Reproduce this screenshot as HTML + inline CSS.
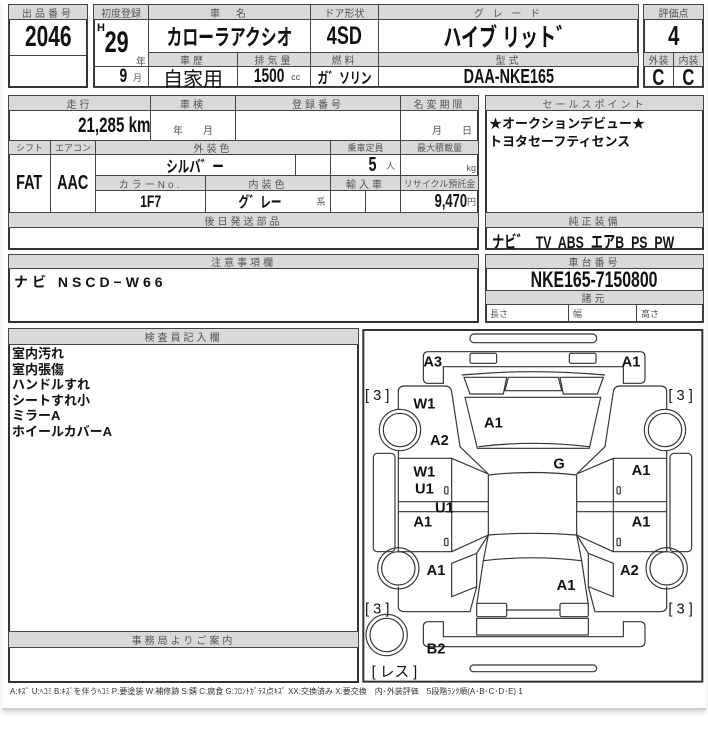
<!DOCTYPE html>
<html><head><meta charset="utf-8">
<style>
*{margin:0;padding:0}
body{width:708px;height:750px;background:#fff;position:relative;overflow:hidden;font-family:"Liberation Sans","Noto Sans CJK JP",sans-serif;color:#111}
.c{position:absolute;border:1px solid #444;box-sizing:border-box;display:flex;align-items:center;justify-content:center;white-space:nowrap}
.o{position:absolute;border:2px solid #333;box-sizing:border-box}
.h{background:#d9d9d9;font-size:10px;color:#555;letter-spacing:3px}
.n{font-family:"Liberation Sans","Noto Sans CJK JP",sans-serif;font-weight:bold}
.k{display:inline-block;transform:scaleX(.72);font-weight:bold}
.t{position:absolute;white-space:nowrap}
</style></head><body>
<div style="position:absolute;left:2px;top:0;width:704px;height:708px;border-bottom:2px solid #ccc;box-shadow:0 3px 4px #ddd"></div>

<!-- Box 1 -->
<div class="o" style="left:8px;top:4px;width:80px;height:84px"></div>
<div class="c h" style="left:8px;top:4px;width:80px;height:16px">出品番号</div>
<div class="c" style="left:8px;top:19px;width:80px;height:37px;font-size:29px"><span class="k">2046</span></div>

<!-- Box 2 -->
<div class="o" style="left:93px;top:4px;width:546px;height:84px"></div>
<div class="c h" style="left:93px;top:4px;width:56px;height:16px;letter-spacing:0">初度登録</div>
<div class="c h" style="left:148px;top:4px;width:163px;height:16px">車　名</div>
<div class="c h" style="left:310px;top:4px;width:69px;height:16px;letter-spacing:0">ドア形状</div>
<div class="c h" style="left:378px;top:4px;width:261px;height:16px">グ レ ー ド</div>
<div class="c" style="left:93px;top:19px;width:56px;height:48px"></div>
<div class="t n" style="left:97px;top:22px;font-size:11px">H</div>
<div class="t" style="left:100px;top:26px;font-size:30px"><span class="k">29</span></div>
<div class="t" style="left:136px;top:53px;font-size:10px;color:#555">年</div>
<div class="c" style="left:148px;top:19px;width:163px;height:34px;font-size:22px"><span class="k">カローラアクシオ</span></div>
<div class="c" style="left:310px;top:19px;width:69px;height:34px;font-size:25px"><span class="k">4SD</span></div>
<div class="c" style="left:378px;top:19px;width:261px;height:34px;font-size:25px"><span class="k">ハイブ リット゛</span></div>
<div class="c h" style="left:148px;top:52px;width:90px;height:15px">車歴</div>
<div class="c h" style="left:237px;top:52px;width:74px;height:15px">排気量</div>
<div class="c h" style="left:310px;top:52px;width:69px;height:15px">燃料</div>
<div class="c h" style="left:378px;top:52px;width:261px;height:15px">型式</div>
<div class="c" style="left:93px;top:66px;width:56px;height:22px;justify-content:flex-end;padding-right:6px"><span class="k" style="font-size:19px">9</span><span style="font-size:9px;color:#555;margin-left:4px">月</span></div>
<div class="c" style="left:148px;top:66px;width:90px;height:22px;font-size:20px">自家用</div>
<div class="c" style="left:237px;top:66px;width:74px;height:22px"><span class="k" style="font-size:19px">1500</span><span style="font-size:9px;color:#555;margin-left:1px">cc</span></div>
<div class="c" style="left:310px;top:66px;width:69px;height:22px;font-size:15px"><span class="k">ガ゛ソリン</span></div>
<div class="c" style="left:378px;top:66px;width:261px;height:22px;font-size:20px"><span class="k">DAA-NKE165</span></div>

<!-- Box 3 -->
<div class="o" style="left:643px;top:4px;width:61px;height:84px"></div>
<div class="c h" style="left:643px;top:4px;width:61px;height:16px;letter-spacing:0">評価点</div>
<div class="c" style="left:643px;top:19px;width:61px;height:34px;font-size:28px"><span class="k">4</span></div>
<div class="c h" style="left:643px;top:52px;width:31px;height:15px;letter-spacing:0">外装</div>
<div class="c h" style="left:673px;top:52px;width:31px;height:15px;letter-spacing:0">内装</div>
<div class="c" style="left:643px;top:66px;width:31px;height:22px;font-size:23px"><span class="k">C</span></div>
<div class="c" style="left:673px;top:66px;width:31px;height:22px;font-size:23px"><span class="k">C</span></div>

<!-- Section 2 left -->
<div class="o" style="left:8px;top:95px;width:471px;height:155px"></div>
<div class="c h" style="left:8px;top:95px;width:143px;height:16px">走行</div>
<div class="c h" style="left:150px;top:95px;width:86px;height:16px">車検</div>
<div class="c h" style="left:235px;top:95px;width:166px;height:16px">登録番号</div>
<div class="c h" style="left:400px;top:95px;width:79px;height:16px">名変期限</div>
<div class="c" style="left:8px;top:110px;width:143px;height:31px;justify-content:flex-end;padding-right:0"><span class="k" style="font-size:21px;transform-origin:right">21,285 km</span></div>
<div class="c" style="left:150px;top:110px;width:86px;height:31px;font-size:10px;color:#555;align-items:flex-end;padding-bottom:3px">年　　月</div>
<div class="c" style="left:235px;top:110px;width:166px;height:31px"></div>
<div class="c" style="left:400px;top:110px;width:79px;height:31px;font-size:10px;color:#555;align-items:flex-end;justify-content:flex-end;padding:0 6px 3px 0">月　　日</div>
<div class="c h" style="left:8px;top:140px;width:43px;height:15px;letter-spacing:0;font-size:9px">シフト</div>
<div class="c h" style="left:50px;top:140px;width:46px;height:15px;letter-spacing:0;font-size:9px">エアコン</div>
<div class="c h" style="left:95px;top:140px;width:236px;height:15px">外装色</div>
<div class="c h" style="left:330px;top:140px;width:71px;height:15px;letter-spacing:0;font-size:9px">乗車定員</div>
<div class="c h" style="left:400px;top:140px;width:79px;height:15px;letter-spacing:0;font-size:9px">最大積載量</div>
<div class="c" style="left:8px;top:154px;width:43px;height:59px;font-size:20px"><span class="k">FAT</span></div>
<div class="c" style="left:50px;top:154px;width:46px;height:59px;font-size:20px"><span class="k">AAC</span></div>
<div class="c" style="left:95px;top:154px;width:201px;height:22px;font-size:16px"><span class="k">シルバ゛ー</span></div>
<div class="c" style="left:295px;top:154px;width:36px;height:22px"></div>
<div class="c" style="left:330px;top:154px;width:71px;height:22px;justify-content:flex-end;padding-right:5px"><span class="k" style="font-size:20px">5</span><span style="font-size:9px;color:#555;margin-left:8px">人</span></div>
<div class="c" style="left:400px;top:154px;width:79px;height:22px;justify-content:flex-end;align-items:flex-end;padding:0 2px 2px 0;font-size:9px;color:#555">kg</div>
<div class="c h" style="left:95px;top:175px;width:111px;height:16px">カラーNo.</div>
<div class="c h" style="left:205px;top:175px;width:126px;height:16px">内装色</div>
<div class="c h" style="left:330px;top:175px;width:71px;height:16px">輸入車</div>
<div class="c h" style="left:400px;top:175px;width:79px;height:16px;letter-spacing:0;font-size:9px">リサイクル預託金</div>
<div class="c" style="left:95px;top:190px;width:111px;height:23px;font-size:17px"><span class="k">1F7</span></div>
<div class="c" style="left:205px;top:190px;width:126px;height:23px"><span class="k" style="font-size:15px;margin-left:20px">グ゛レー</span><span style="font-size:9px;color:#555;margin-left:26px">系</span></div>
<div class="c" style="left:330px;top:190px;width:36px;height:23px"></div>
<div class="c" style="left:365px;top:190px;width:36px;height:23px"></div>
<div class="c" style="left:400px;top:190px;width:79px;height:23px;justify-content:flex-end;padding-right:2px"><span class="k" style="font-size:18px;transform-origin:right">9,470</span><span style="font-size:9px;color:#555">円</span></div>
<div class="c h" style="left:8px;top:212px;width:471px;height:16px">後日発送部品</div>

<!-- Section 2 right -->
<div class="o" style="left:485px;top:95px;width:219px;height:155px"></div>
<div class="c h" style="left:485px;top:95px;width:219px;height:16px">セールスポイント</div>
<div class="t" style="left:489px;top:115px;font-size:13px;font-weight:bold;line-height:18px">★オークションデビュー★<br>トヨタセーフティセンス</div>
<div class="c h" style="left:485px;top:212px;width:219px;height:16px">純正装備</div>
<div class="t" style="left:492px;top:228px;font-size:17px;word-spacing:5px"><span class="k" style="transform-origin:left">ナビ゛ TV ABS エアB PS PW</span></div>

<!-- Section 3 -->
<div class="o" style="left:8px;top:254px;width:471px;height:69px"></div>
<div class="c h" style="left:8px;top:254px;width:471px;height:15px">注意事項欄</div>
<div class="t" style="left:14px;top:272px;font-size:14px;font-weight:bold;letter-spacing:4px">ナビ NSCD−W66</div>
<div class="o" style="left:485px;top:254px;width:219px;height:69px"></div>
<div class="c h" style="left:485px;top:254px;width:219px;height:15px">車台番号</div>
<div class="c" style="left:485px;top:268px;width:219px;height:23px;font-size:22px"><span class="k">NKE165-7150800</span></div>
<div class="c h" style="left:485px;top:290px;width:219px;height:15px">諸元</div>
<div class="c" style="left:485px;top:304px;width:84px;height:19px;justify-content:flex-start;padding-left:4px;font-size:9px;color:#555">長さ</div>
<div class="c" style="left:568px;top:304px;width:69px;height:19px;justify-content:flex-start;padding-left:4px;font-size:9px;color:#555">幅</div>
<div class="c" style="left:636px;top:304px;width:68px;height:19px;justify-content:flex-start;padding-left:4px;font-size:9px;color:#555">高さ</div>

<!-- Section 4 left -->
<div class="o" style="left:8px;top:328px;width:351px;height:355px"></div>
<div class="c h" style="left:8px;top:328px;width:351px;height:17px">検査員記入欄</div>
<div class="t" style="left:12px;top:346px;font-size:13px;font-weight:bold;line-height:15.5px">室内汚れ<br>室内張傷<br>ハンドルすれ<br>シートすれ小<br>ミラーA<br>ホイールカバーA</div>
<div class="c h" style="left:8px;top:631px;width:351px;height:17px">事務局よりご案内</div>

<!-- Diagram -->
<svg style="position:absolute;left:360px;top:320px" width="348" height="380" viewBox="0 0 1044 1140">
<g fill="none" stroke="#333" stroke-width="3.5">
<rect x="10" y="30" width="1017" height="1055" stroke-width="6"/>
<rect x="330" y="42" width="380" height="26" rx="12"/>
<path d="M250,190 L250,140 L790,140 L790,190 L840,190 Q855,190 855,175 L855,110 Q855,95 840,95 L205,95 Q190,95 190,110 L190,175 Q190,190 205,190 Z"/>
<rect x="330" y="100" width="80" height="30" rx="5"/>
<rect x="628" y="100" width="80" height="30" rx="5"/>
<path d="M305,165 Q520,145 735,165"/>
<path d="M312,172 L440,172 L430,222 L330,222 Z"/>
<path d="M600,172 L730,172 L712,222 L610,222 Z"/>
<path d="M445,172 L595,172 L605,212 L435,212 Z"/>
<path d="M315,232 L722,232 L688,385 L352,385 Z"/>
<path d="M355,380 Q520,360 688,380"/>
<path d="M385,465 Q517,450 650,465 L650,645 Q517,635 385,645 Z"/>
<path d="M385,645 L370,722 Q517,705 665,722 L650,645"/>
<path d="M370,722 L350,855 M665,722 L685,855"/>
<rect x="350" y="850" width="90" height="40" rx="5"/>
<rect x="600" y="850" width="85" height="40" rx="5"/>
<path d="M440,870 L600,870"/>
<rect x="350" y="895" width="335" height="50"/>
<path d="M250,905 L250,950 L790,950 L790,905 L840,905 Q855,905 855,920 L855,965 Q855,980 840,980 L205,980 Q190,980 190,965 L190,920 Q190,905 205,905 Z"/>
<rect x="330" y="1035" width="380" height="20" rx="10"/>
<circle cx="80" cy="945" r="62"/><circle cx="80" cy="945" r="50"/>
<g id="side">
<path d="M115,268 L115,215 Q115,198 135,198 L255,198 Q272,198 275,215 L300,380 L385,462"/>
<circle cx="120" cy="330" r="62"/><circle cx="120" cy="330" r="50"/>
<circle cx="115" cy="745" r="62"/><circle cx="115" cy="745" r="50"/>
<rect x="40" y="400" width="65" height="295" rx="12"/>
<path d="M115,392 L115,695 L275,695 L275,415 L115,415"/>
<path d="M275,415 L385,462 M115,545 L385,545 M115,575 L385,575 M275,695 L385,645"/>
<path d="M275,730 L350,700 L350,800 L275,830 Z"/>
<path d="M115,800 L115,860 Q115,875 135,875 L330,875 L350,800 M350,700 L385,645"/>
<rect x="254" y="500" width="10" height="22" rx="4"/>
<rect x="254" y="655" width="10" height="22" rx="4"/>
</g>
<use href="#side" transform="translate(1035,0) scale(-1,1)"/>
</g>
<g font-family="Liberation Sans, Noto Sans CJK JP, sans-serif" font-weight="bold" font-size="44" fill="#111">
<text x="190" y="140">A3</text><text x="785" y="140">A1</text>
<text x="15" y="240" font-weight="normal">[ 3 ]</text><text x="925" y="240" font-weight="normal">[ 3 ]</text>
<text x="160" y="265">W1</text><text x="372" y="322">A1</text><text x="210" y="375">A2</text>
<text x="580" y="445">G</text><text x="160" y="470">W1</text><text x="165" y="520">U1</text>
<text x="225" y="577">U1</text><text x="160" y="620">A1</text>
<text x="815" y="465">A1</text><text x="815" y="620">A1</text>
<text x="200" y="765">A1</text><text x="780" y="765">A2</text><text x="590" y="810">A1</text>
<text x="15" y="880" font-weight="normal">[ 3 ]</text><text x="925" y="880" font-weight="normal">[ 3 ]</text>
<text x="200" y="1000">B2</text>
<text x="35" y="1070" font-weight="normal">[ レス ]</text>
</g>
</svg>

<div class="t" style="left:10px;top:686px;font-size:8px;color:#333">A:ｷｽﾞ U:ﾍｺﾐ B:ｷｽﾞを伴うﾍｺﾐ P:要塗装 W:補修跡 S:錆 C:腐食 G:ﾌﾛﾝﾄｶﾞﾗｽ点ｷｽﾞ XX:交換済み X:要交換　内･外装評価　5段階ﾗﾝｸ順(A･B･C･D･E) 1</div>
</body></html>
